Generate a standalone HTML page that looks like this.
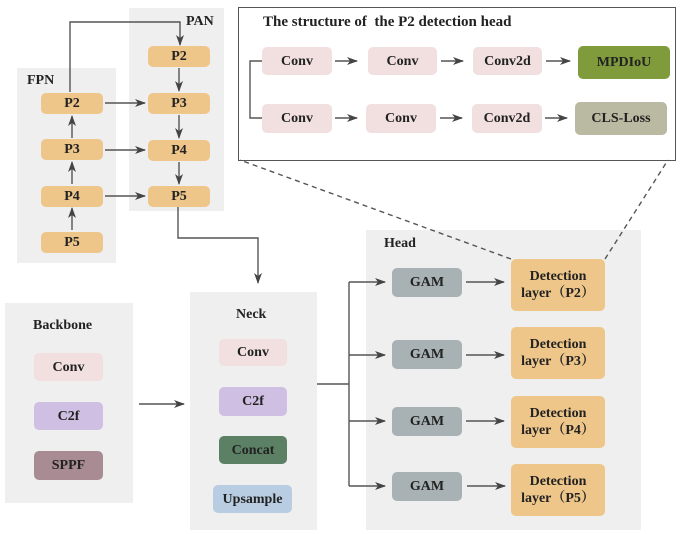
<!DOCTYPE html>
<html><head><meta charset="utf-8"><style>
body{margin:0;background:#fff;width:685px;height:534px;overflow:hidden;position:relative;font-family:"Liberation Serif","Noto Serif CJK SC",serif;font-weight:bold;color:#222}
.b{position:absolute;background:#efefef}
.n{position:absolute;border-radius:5px;display:flex;align-items:center;justify-content:center;font-size:14px;text-align:center;line-height:17px}
.o{background:#eec68a}.pk{background:#f1e0df}.pu{background:#cfbfe2}
.t{position:absolute;font-size:14px}
svg{position:absolute;left:0;top:0}
</style></head><body>
<div class="b" style="left:17px;top:68px;width:99px;height:195px"></div>
<div class="b" style="left:129px;top:8px;width:95px;height:203px"></div>
<div class="b" style="left:5px;top:303px;width:128px;height:200px"></div>
<div class="b" style="left:190px;top:292px;width:127px;height:238px"></div>
<div class="b" style="left:366px;top:230px;width:275px;height:300px"></div>
<div style="position:absolute;left:238px;top:7px;width:436px;height:152px;border:1.5px solid #555;background:#fff"></div>

<div class="t" style="left:27px;top:73px">FPN</div>
<div class="t" style="left:186px;top:14px">PAN</div>
<div class="t" style="left:33px;top:318px">Backbone</div>
<div class="t" style="left:236px;top:307px">Neck</div>
<div class="t" style="left:384px;top:236px">Head</div>
<div class="t" style="left:263px;top:14px;font-size:15px">The structure of&nbsp; the P2 detection head</div>

<div class="n o" style="left:41px;top:93px;width:62px;height:21px">P2</div>
<div class="n o" style="left:41px;top:139px;width:62px;height:21px">P3</div>
<div class="n o" style="left:41px;top:186px;width:62px;height:21px">P4</div>
<div class="n o" style="left:41px;top:232px;width:62px;height:21px">P5</div>
<div class="n o" style="left:148px;top:46px;width:62px;height:21px">P2</div>
<div class="n o" style="left:148px;top:93px;width:62px;height:21px">P3</div>
<div class="n o" style="left:148px;top:140px;width:62px;height:21px">P4</div>
<div class="n o" style="left:148px;top:186px;width:62px;height:21px">P5</div>

<div class="n pk" style="left:34px;top:353px;width:69px;height:28px">Conv</div>
<div class="n pu" style="left:34px;top:402px;width:69px;height:28px">C2f</div>
<div class="n" style="left:34px;top:451px;width:69px;height:29px;background:#a98c93">SPPF</div>
<div class="n pk" style="left:219px;top:339px;width:68px;height:27px">Conv</div>
<div class="n pu" style="left:219px;top:387px;width:68px;height:29px">C2f</div>
<div class="n" style="left:219px;top:436px;width:68px;height:28px;background:#5b8064">Concat</div>
<div class="n" style="left:213px;top:485px;width:79px;height:28px;background:#b8cde2">Upsample</div>

<div class="n" style="left:392px;top:268px;width:70px;height:29px;background:#a8b1b3">GAM</div>
<div class="n" style="left:392px;top:340px;width:70px;height:29px;background:#a8b1b3">GAM</div>
<div class="n" style="left:392px;top:407px;width:70px;height:29px;background:#a8b1b3">GAM</div>
<div class="n" style="left:392px;top:472px;width:70px;height:29px;background:#a8b1b3">GAM</div>
<div class="n o" style="left:511px;top:259px;width:94px;height:52px">Detection<br>layer（P2）</div>
<div class="n o" style="left:511px;top:327px;width:94px;height:52px">Detection<br>layer（P3）</div>
<div class="n o" style="left:511px;top:396px;width:94px;height:52px">Detection<br>layer（P4）</div>
<div class="n o" style="left:511px;top:464px;width:94px;height:52px">Detection<br>layer（P5）</div>

<div class="n pk" style="left:262px;top:47px;width:70px;height:28px">Conv</div>
<div class="n pk" style="left:368px;top:47px;width:69px;height:28px">Conv</div>
<div class="n pk" style="left:473px;top:47px;width:69px;height:28px">Conv2d</div>
<div class="n" style="left:578px;top:46px;width:92px;height:33px;background:#7f9b3b">MPDIoU</div>
<div class="n pk" style="left:262px;top:104px;width:70px;height:29px">Conv</div>
<div class="n pk" style="left:366px;top:104px;width:70px;height:29px">Conv</div>
<div class="n pk" style="left:472px;top:104px;width:70px;height:29px">Conv2d</div>
<div class="n" style="left:575px;top:102px;width:92px;height:33px;background:#bab9a1">CLS-Loss</div>

<svg width="685" height="534">
<defs><marker id="a" markerWidth="11" markerHeight="10" refX="10" refY="5" orient="auto" markerUnits="userSpaceOnUse"><path d="M0,1 L11,5 L0,9 L3,5Z" fill="#444"/></marker></defs>
<g stroke="#555" stroke-width="1.4" fill="none" marker-end="url(#a)">
<path d="M72,230 V208"/><path d="M72,184 V162"/><path d="M72,138 V116"/>
<path d="M105,103 H145"/><path d="M105,150 H145"/><path d="M105,196 H145"/>
<path d="M179,68 V91"/><path d="M179,115 V138"/><path d="M179,162 V184"/>
<path d="M70,92 V22 H180 V45"/>
<path d="M178,207 V238 H258 V283"/>
<path d="M139,404 H184"/>
<path d="M349,282 H385"/><path d="M349,355 H385"/><path d="M349,421 H385"/><path d="M349,486 H385"/>
<path d="M466,282 H504"/><path d="M466,355 H504"/><path d="M466,421 H504"/><path d="M467,486 H505"/>
<path d="M335,61 H357"/><path d="M441,61 H463"/><path d="M546,61 H570"/>
<path d="M335,118 H357"/><path d="M440,118 H462"/><path d="M545,118 H567"/>
</g>
<g stroke="#555" stroke-width="1.4" fill="none">
<path d="M317,384 H349 M349,282 V486"/>
<path d="M262,61 H250 V118 H262"/>
<path d="M511,259 L240,160" stroke-dasharray="5,4"/>
<path d="M605,259 L668,160" stroke-dasharray="5,4"/>
</g>
</svg>
</body></html>
